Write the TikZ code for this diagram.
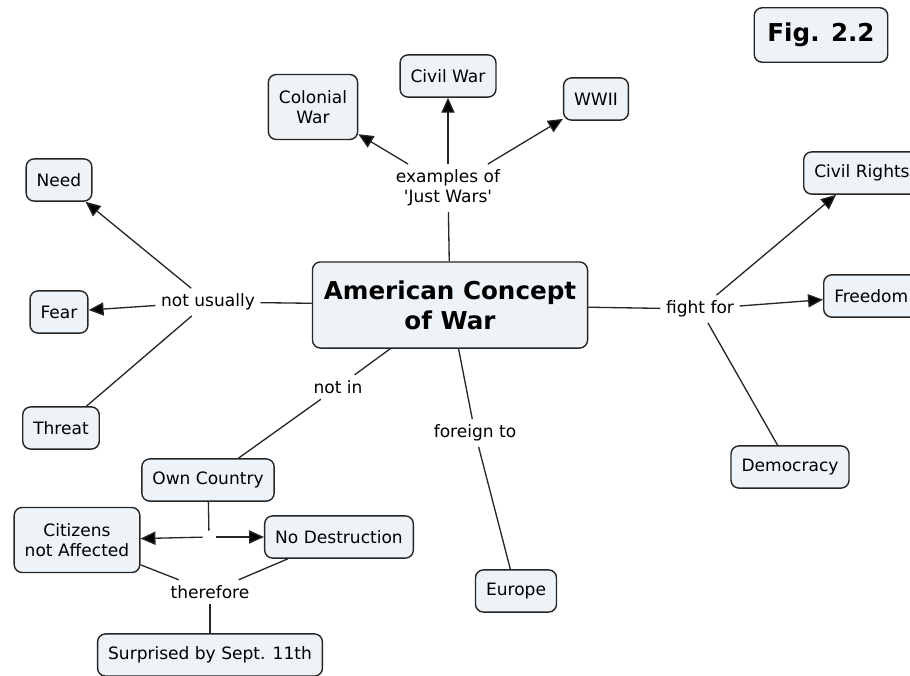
\documentclass[tikz,border=0pt]{standalone}
\usepackage{fontspec}
\setmainfont{DejaVu Sans}
\usetikzlibrary{arrows.meta,positioning}
\definecolor{conceptfill}{HTML}{EEF3F7}
\definecolor{linkgrey}{HTML}{262626}

\begin{document}
\begin{tikzpicture}[x=0.02cm,y=-0.02cm,
  cn/.style={draw=linkgrey,fill=conceptfill,rounded corners=4.5pt,line width=0.8pt,
             font=\fontsize{9.7}{11.6}\selectfont,align=center,inner xsep=6pt,inner ysep=3pt,
             minimum height=24pt},
  cn2/.style={cn,minimum height=37pt},
  hub/.style={cn,font=\fontsize{14}{17}\selectfont\bfseries,minimum height=49pt,inner xsep=6.5pt},
  lk/.style={font=\fontsize{9.7}{11.6}\selectfont,align=center,inner sep=3pt},
  ln/.style={draw=linkgrey,line width=0.75pt},
  ar/.style={ln,-{Triangle[length=8.5pt,width=7.5pt,fill=black]}}
]
\useasboundingbox[fill=white] (0,0) rectangle (910,676);
\clip (0,0) rectangle (910,676);

\node[hub] (war) at (450,305) {American Concept\\of War};
\node[hub,minimum height=31pt,inner xsep=7.5pt] (fig) at (821,35) {Fig. 2.2};

\node[cn2] (colonial) at (313,107) {Colonial\\War};
\node[cn] (civilwar) at (448,76) {Civil War};
\node[cn] (wwii) at (596,99) {WWII};
\node[lk] (examples) at (448,188) {examples of\\\textquotesingle Just Wars\textquotesingle};

\node[cn] (need) at (59,180) {Need};
\node[cn] (fear) at (59,312) {Fear};
\node[cn] (threat) at (61,428) {Threat};
\node[lk] (notusually) at (208,302) {not usually};

\node[cn,anchor=west] (rights) at (803,173) {Civil Rights};
\node[cn,anchor=west] (freedom) at (823,296) {Freedom};
\node[cn] (democracy) at (790,467) {Democracy};
\node[lk] (fightfor) at (700,309) {fight for};

\node[lk] (notin) at (338,387) {not in};
\node[cn] (own) at (208,480) {Own Country};
\node[minimum size=7pt,inner sep=0pt] (split) at (209,537) {};
\node[cn2] (citizens) at (77,540) {Citizens\\not Affected};
\node[cn] (nodestr) at (339,537) {No Destruction};
\node[lk] (therefore) at (210,592) {therefore};
\node[cn] (surprised) at (210,655) {Surprised by Sept. 11th};

\node[lk] (foreign) at (475,433) {foreign to};
\node[cn] (europe) at (516,591) {Europe};

\draw[ln] (war) -- (examples);
\draw[ar] (examples) -- (colonial);
\draw[ar] (examples) -- (civilwar);
\draw[ar] (examples) -- (wwii);
\draw[ln] (war) -- (notusually);
\draw[ar] (notusually) -- (need);
\draw[ar] (notusually) -- (fear);
\draw[ln] (notusually) -- (threat);
\draw[ln] (war) -- (fightfor);
\draw[ar] (fightfor) -- (rights);
\draw[ar] (fightfor) -- (freedom);
\draw[ln] (fightfor) -- (democracy);
\draw[ln] (war) -- (notin);
\draw[ln] (notin) -- (own);
\draw[ln] (own) -- (split);
\draw[ar] (split) -- (citizens);
\draw[ar] (split) -- (nodestr);
\draw[ln] (citizens) -- (therefore);
\draw[ln] (nodestr) -- (therefore);
\draw[ln] (therefore) -- (surprised);
\draw[ln] (war) -- (foreign);
\draw[ln] (foreign) -- (europe);
\end{tikzpicture}
\end{document}
